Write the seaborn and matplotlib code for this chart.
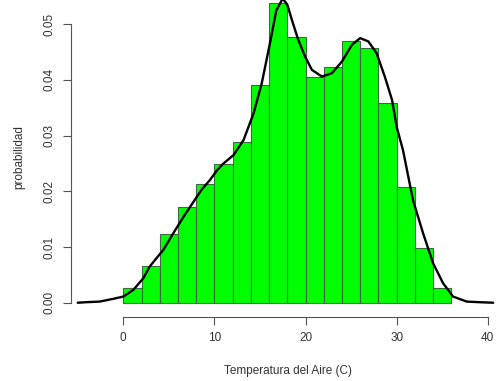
import numpy as np
import pandas as pd
import matplotlib
matplotlib.use("Agg")
import matplotlib.pyplot as plt
import seaborn as sns

sns.set_style(style='white')
plt.rcParams['font.family'] = ['Liberation Sans', 'DejaVu Sans']

# histogram: bins of 2 degrees, density per bin
bin_edges = [0, 2, 4, 6, 8, 10, 12, 14, 16, 18, 20, 22, 24, 26, 28, 30, 32, 34, 36]
densidad = [0.0026, 0.0066, 0.0123, 0.0171, 0.0213, 0.0249, 0.0289, 0.0391, 0.0538,
            0.0477, 0.0405, 0.0423, 0.0470, 0.0457, 0.0359, 0.0208, 0.0098, 0.0026]

# density curve, points
curva_x = [-5.0, -4.0, -2.6, -1.1, 0.0, 1.1, 2.2, 2.9, 3.7, 4.4, 5.5, 6.6, 7.7, 8.6,
           9.5, 10.3, 11.0, 12.1, 13.2, 14.3, 15.2, 16.1, 16.8, 17.5, 18.0, 18.5, 19.2,
           19.95, 20.7, 21.8, 22.9, 24.0, 25.1, 26.0, 26.9, 27.8, 28.7, 29.5, 30.0,
           30.7, 31.8, 32.9, 34.0, 35.1, 36.2, 37.7, 39.0, 40.6]
curva_y = [0.0000, 0.0001, 0.0002, 0.0007, 0.0011, 0.0023, 0.0044, 0.0065, 0.0081,
           0.0095, 0.0125, 0.0154, 0.0181, 0.0203, 0.0220, 0.0238, 0.0250, 0.0265,
           0.0292, 0.0340, 0.0394, 0.0466, 0.0525, 0.0546, 0.0535, 0.0508, 0.0472,
           0.0442, 0.0418, 0.0406, 0.0412, 0.0433, 0.0463, 0.0475, 0.0469, 0.0448,
           0.0406, 0.0364, 0.0316, 0.0274, 0.0184, 0.0125, 0.0071, 0.0035, 0.0011,
           0.0002, 0.0001, 0.0000]

xticks = [0, 10, 20, 30, 40]
yticks = [0.00, 0.01, 0.02, 0.03, 0.04, 0.05]

W, H = 496, 381
fig = plt.figure(figsize=(W / 100, H / 100), dpi=100)
ax = fig.add_axes([71 / W, 1 - 316.7 / H, (W - 71) / W, 316.7 / H])

centros = [(a + b) / 2 for a, b in zip(bin_edges[:-1], bin_edges[1:])]
hist_df = pd.DataFrame({'temp': centros, 'dens': densidad})
sns.histplot(data=hist_df, x='temp', weights='dens', bins=bin_edges, stat='count',
             color='#00ff00', alpha=1, edgecolor='#3f6a3f', linewidth=0.8, ax=ax)

curva_df = pd.DataFrame({'x': curva_x, 'y': curva_y})
sns.lineplot(data=curva_df, x='x', y='y', color='black', linewidth=1.7, sort=False, ax=ax)

ax.set_xlim(-5.74, 40.91)
ax.set_ylim(-0.00251, 0.05434)

# R style axes
for s in ['top', 'right']:
    ax.spines[s].set_visible(False)
for s in ['left', 'bottom']:
    ax.spines[s].set_color('#555555')
    ax.spines[s].set_linewidth(0.8)
ax.spines['left'].set_bounds(0, 0.05)
ax.spines['bottom'].set_bounds(0, 40)

ax.set_xticks(xticks)
ax.set_xticklabels([str(t) for t in xticks])
ax.set_yticks(yticks)
ax.set_yticklabels([f"{t:.2f}" for t in yticks])
ax.tick_params(axis='both', direction='out', length=6, width=0.8, color='#555555',
               labelsize=8.5, labelcolor='#333333', bottom=True, left=True)
ax.tick_params(axis='x', pad=5)
ax.tick_params(axis='y', pad=5)
for lab in ax.get_yticklabels():
    lab.set_rotation(90)
    lab.set_va('center')

ax.set_xlabel('')
ax.set_ylabel('')
fig.text(287.5 / W, 1 - 371 / H, 'Temperatura del Aire (C)', ha='center', va='center',
         fontsize=8.5, color='#333333')
fig.text(19 / W, 1 - 157 / H, 'probabilidad', ha='center', va='center', rotation=90,
         fontsize=8.5, color='#333333')

fig.savefig('out.png', dpi=100)
